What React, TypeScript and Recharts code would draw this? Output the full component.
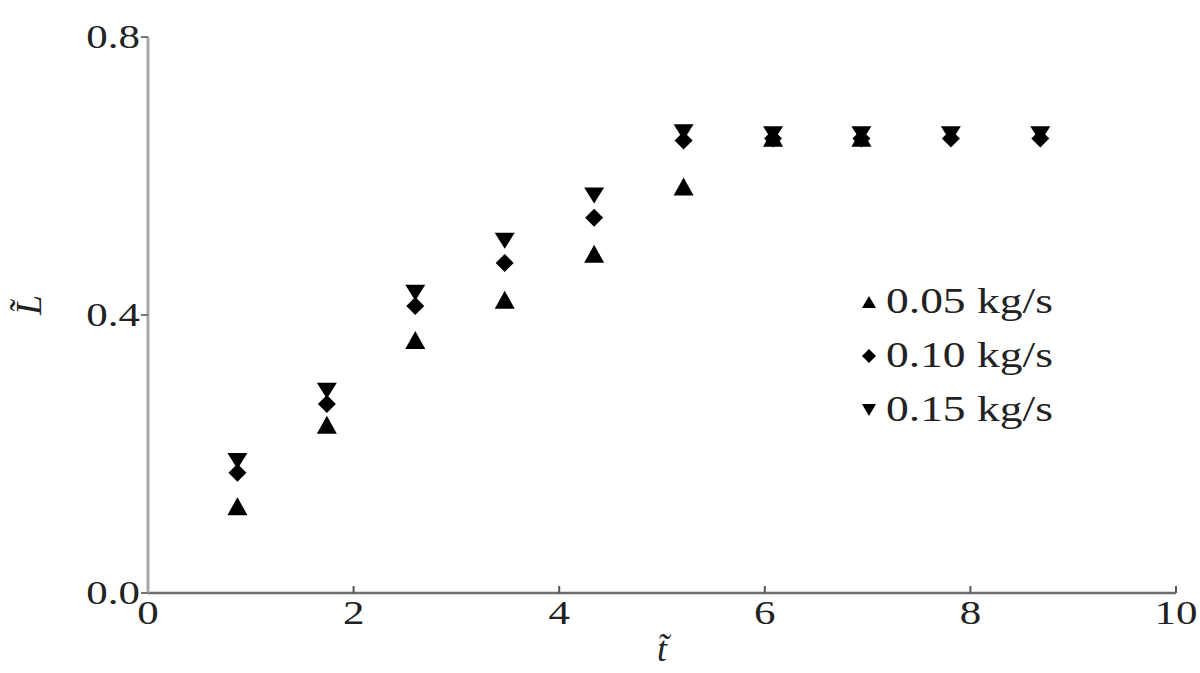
import { ScatterChart, Scatter, XAxis, YAxis } from "recharts";

// dimensionless time t~ (same sampling for every run)
const tValues = [0.87, 1.74, 2.6, 3.47, 4.34, 5.21, 6.08, 6.94, 7.81, 8.68];

// dimensionless length L~ for each mass flow rate
const flow005 = [0.125, 0.242, 0.364, 0.422, 0.488, 0.585, 0.655, 0.655];
const flow010 = [0.173, 0.272, 0.413, 0.475, 0.54, 0.651, 0.654, 0.654, 0.654, 0.654];
const flow015 = [0.19, 0.291, 0.432, 0.507, 0.572, 0.663, 0.66, 0.66, 0.66, 0.66];

const xTicks = [0, 2, 4, 6, 8, 10];
const yTicks = [0, 0.4, 0.8];
const seriesNames = ["0.05 kg/s", "0.10 kg/s", "0.15 kg/s"];

const toPoints = (vals: number[]) => vals.map((l, i) => ({ t: tValues[i], l }));

const FONT = '"Liberation Serif", "Times New Roman", serif';
const STRETCH = 1.3; // the source image is stretched horizontally

const UpTri = (p: any) => (
  <polygon
    points={`${p.cx},${p.cy - 9} ${p.cx - 10},${p.cy + 9} ${p.cx + 10},${p.cy + 9}`}
    fill="#000"
  />
);
const Diamond = (p: any) => (
  <polygon
    points={`${p.cx},${p.cy - 9} ${p.cx + 9},${p.cy} ${p.cx},${p.cy + 9} ${p.cx - 9},${p.cy}`}
    fill="#000"
  />
);
const DownTri = (p: any) => (
  <polygon
    points={`${p.cx - 10},${p.cy - 8} ${p.cx + 10},${p.cy - 8} ${p.cx},${p.cy + 8}`}
    fill="#000"
  />
);

const XTick = ({ x, y, payload }: any) => (
  <g>
    {payload.value !== 0 && (
      <line x1={x} y1={y} x2={x} y2={y - 7} stroke="#555" strokeWidth={2} />
    )}
    <text
      transform={`translate(${x},${y + 31}) scale(${STRETCH},1)`}
      textAnchor="middle"
      fontFamily={FONT}
      fontSize={33}
      fill="#222"
    >
      {payload.value}
    </text>
  </g>
);

const YTick = ({ x, y, payload }: any) => (
  <g>
    <line x1={x - 7} y1={y} x2={x} y2={y} stroke="#777" strokeWidth={2} />
    <text
      transform={`translate(${x - 8},${y + 11}) scale(${STRETCH},1)`}
      textAnchor="end"
      fontFamily={FONT}
      fontSize={33}
      fill="#222"
    >
      {Number(payload.value).toFixed(1)}
    </text>
  </g>
);

const legendShapes = [
  <polygon key="a" points="7,1 0,13 14,13" fill="#000" />,
  <polygon key="b" points="7,0 14,7 7,14 0,7" fill="#000" />,
  <polygon key="c" points="0,1 14,1 7,13" fill="#000" />,
];

const LegendBox = () => (
  <div style={{ position: "absolute", left: 862, top: 275, fontFamily: FONT, color: "#222" }}>
    {seriesNames.map((name, i) => (
      <div
        key={name}
        style={{ display: "flex", alignItems: "center", height: 54 }}
      >
        <svg width={16} height={14} style={{ marginRight: 8 }}>
          {legendShapes[i]}
        </svg>
        <span
          style={{
            fontSize: 35,
            display: "inline-block",
            transform: `scaleX(${STRETCH})`,
            transformOrigin: "left center",
            whiteSpace: "nowrap",
          }}
        >
          {name}
        </span>
      </div>
    ))}
  </div>
);

export default function App() {
  return (
    <div style={{ position: "absolute", left: 0, top: 0, width: 1200, height: 673, background: "#fff" }}>
      <ScatterChart
        width={1200}
        height={673}
        margin={{ top: 37, right: 24, left: 0, bottom: 0 }}
      >
        <XAxis
          type="number"
          dataKey="t"
          domain={[0, 10]}
          ticks={xTicks}
          height={80}
          axisLine={{ stroke: "#6e6e6e", strokeWidth: 2.5 }}
          tickLine={false}
          tickSize={0}
          tickMargin={0}
          tick={<XTick />}
          interval={0}
          label={{
            value: "t\u0303",
            position: "insideBottom",
            offset: 12,
            fontFamily: FONT,
            fontStyle: "italic",
            fontSize: 36,
            fill: "#222",
          }}
        />
        <YAxis
          type="number"
          dataKey="l"
          domain={[0, 0.8]}
          ticks={yTicks}
          width={148}
          axisLine={{ stroke: "#a8a8a8", strokeWidth: 3 }}
          tickLine={false}
          tickSize={0}
          tickMargin={0}
          tick={<YTick />}
          interval={0}
          label={{
            value: "L\u0303",
            angle: -90,
            position: "insideLeft",
            offset: 28,
            fontFamily: FONT,
            fontStyle: "italic",
            fontSize: 36,
            fill: "#222",
          }}
        />
        <Scatter name={seriesNames[0]} data={toPoints(flow005)} shape={UpTri} isAnimationActive={false} />
        <Scatter name={seriesNames[1]} data={toPoints(flow010)} shape={Diamond} isAnimationActive={false} />
        <Scatter name={seriesNames[2]} data={toPoints(flow015)} shape={DownTri} isAnimationActive={false} />
      </ScatterChart>
      <LegendBox />
    </div>
  );
}
